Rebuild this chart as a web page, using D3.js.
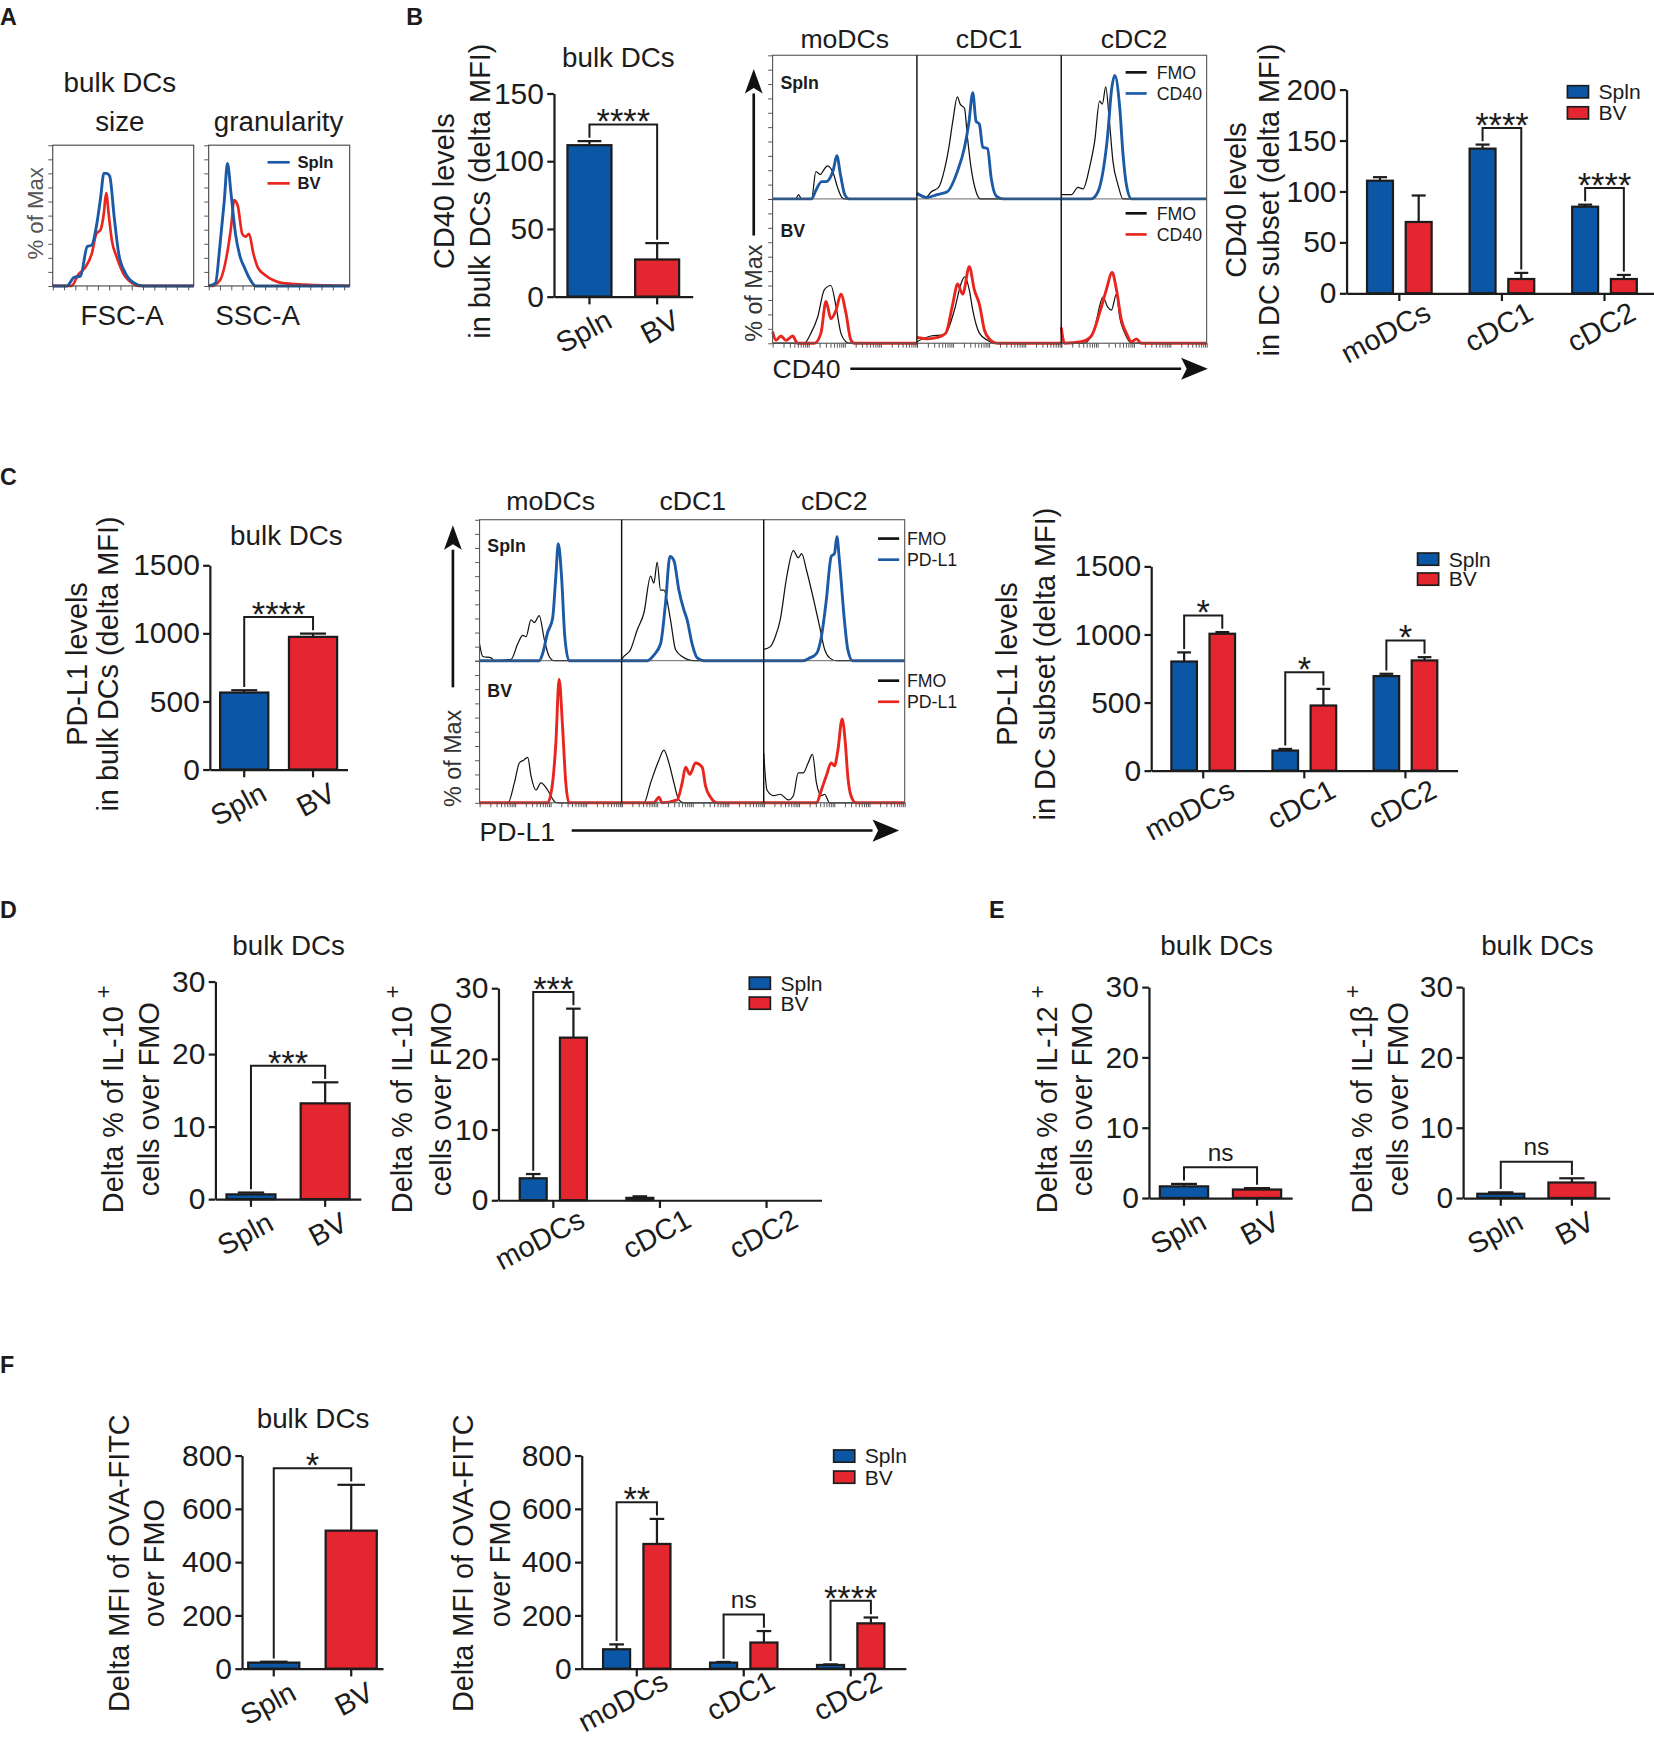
<!DOCTYPE html>
<meta charset="utf-8">
<script src="https://d3js.org/d3.v7.min.js"></script>
<style>
  body { margin: 0; background: #fff; }
</style>
<div id="fig"></div>
<script>
// ---------------- data ----------------
const pair = ["Spln", "BV"]
const subsets = ["moDCs", "cDC1", "cDC2"]

// B: CD40
const cd40Bulk = [111.8, 27.4]
const cd40BulkErr = [114.8, 39.5]
const cd40BulkSig = "****"
const cd40SubSpln = [110.5, 142, 85]
const cd40SubSplnErr = [114, 146, 87]
const cd40SubBV = [70, 14, 14]
const cd40SubBVErr = [96, 20, 18]
const cd40SubSig = [null, "****", "****"]

// C: PD-L1
const pdl1Bulk = [565, 974]
const pdl1BulkErr = [582, 998]
const pdl1BulkSig = "****"
const pdl1SubSpln = [801, 147, 694]
const pdl1SubSplnErr = [868, 159, 711]
const pdl1SubBV = [1005, 478, 809]
const pdl1SubBVErr = [1017, 600, 833]
const pdl1SubSig = ["*", "*", "*"]

// D: IL-10
const il10Bulk = [0.65, 13.2]
const il10BulkErr = [0.9, 16.1]
const il10BulkSig = "***"
const il10SubSpln = [3.1, 0.33, 0]
const il10SubSplnErr = [3.7, 0.55, 0]
const il10SubBV = [23.0, 0, 0]
const il10SubBVErr = [27.1, 0, 0]
const il10SubSig = ["***", null, null]

// E: IL-12, IL-1b
const il12Bulk = [1.65, 1.2]
const il12BulkErr = [2.0, 1.4]
const il1bBulk = [0.6, 2.2]
const il1bBulkErr = [0.8, 2.8]

// F: OVA-FITC
const ovaBulk = [22.6, 518]
const ovaBulkErr = [26, 690]
const ovaBulkSig = "*"
const ovaSubSpln = [72.7, 22.6, 13.8]
const ovaSubSplnErr = [91, 25, 16]
const ovaSubBV = [468, 98, 170]
const ovaSubBVErr = [562, 141, 192]
const ovaSubSig = ["**", "ns", "****"]

// tick values
const ticksCd40Bulk = [0, 50, 100, 150]
const ticksCd40Sub = [0, 50, 100, 150, 200]
const ticksPdl1 = [0, 500, 1000, 1500]
const ticksPct = [0, 10, 20, 30]
const ticksOva = [0, 200, 400, 600, 800]

// histograms: [x %, y % of max] per curve
const fscSpln = [[0,0],[10,0],[15,6],[19.7,7],[24.5,28],[27.7,29],[30.9,42],[34,63],[36.3,80],[38.2,80],[40.4,78],[43.6,49],[46.8,23],[51.6,9],[58,2],[64.3,0],[100,0]]
const fscBV = [[0,0],[13.4,0],[18,8],[23,13],[27.7,23],[30.9,37],[34,40],[36.3,52],[37.9,66],[39.8,50],[42,32],[45.2,21],[50,9],[56.4,2],[61,0],[100,0]]
const sscSpln = [[0,0],[4.8,2],[7.9,28],[11.1,61],[13.3,87],[15.9,65],[19,37],[22.2,21],[25.4,13],[28.6,6],[33.3,0],[100,0]]
const sscBV = [[0,0],[1.6,0],[7.9,4],[12.7,21],[15.9,42],[18.1,61],[20.6,57],[23.8,37],[26,35],[28.6,37],[31.7,23],[34.9,13],[39.7,8],[46,4],[52.4,2],[68.3,1],[100,0]]

const cd40MoSplnFmo = [[0,0],[16,0],[18,3],[20,0],[27,0],[30,19],[33,17],[36,21],[38,23],[42,18],[45,8],[48,1],[50,0],[100,0]]
const cd40MoSpln = [[0,0],[27,0],[30,6],[34,12],[37,12],[40,15],[42,20],[44.5,30],[47,17],[50,3],[53,0],[100,0]]
const cd40C1SplnFmo = [[0,3],[3,2],[6,1],[10,5],[15,8],[19,20],[22,35],[25,55],[28,71],[30,66],[33,63],[35,43],[37.5,22],[41,5],[44,0],[100,0]]
const cd40C1Spln = [[0,4],[7,1],[14,3],[21,5],[28,19],[33,36],[36,53],[38.7,74],[41,54],[43.3,52],[45.6,36],[49,35],[51.4,15],[55,2],[60,0],[100,0]]
const cd40C2SplnFmo = [[0,3],[7,3],[11.5,8],[15,7],[19.5,22],[23,40],[26.4,68],[28.3,66],[30.6,78],[32.9,57],[35.6,26],[39,10],[42.5,0],[100,0]]
const cd40C2Spln = [[0,0],[20.7,0],[25.3,5],[28.7,19],[32,45],[34.5,75],[36.8,86],[40.2,64],[42.5,31],[44.8,10],[48.3,0],[100,0]]
const cd40MoBVFmo = [[0,0],[22,0],[26.6,7],[31.2,18],[35.8,37],[40.4,40],[44,25],[47.3,7],[50.8,1],[53,0],[100,0]]
const cd40MoBV = [[0,8],[2.3,2],[5.8,5],[9.2,2],[13.9,5],[17.3,0],[29,0],[33.5,7],[37,29],[40.4,17],[44,23],[47.3,34],[50.8,21],[54.3,2],[56.6,0],[100,0]]
const cd40C1BVFmo = [[0,1],[9.7,5],[19,6],[26,23],[30.5,41],[33,46],[36.3,37],[38.7,23],[43.3,7],[49,2],[53.7,0],[100,0]]
const cd40C1BV = [[0,4],[7.4,3],[14.4,4],[20,7],[24.8,27],[28.2,41],[31.7,34],[36.3,53],[39.8,37],[43.3,27],[46.8,9],[50.2,3],[56,0],[100,0]]
const cd40C2BVFmo = [[0,0],[16,0],[23,11],[28.7,32],[32,25],[34.5,23],[38,34],[40.2,18],[43.7,7],[48.3,0],[100,0]]
const cd40C2BV = [[0,11],[2.3,0],[13.8,1],[20.7,5],[26.4,21],[31,37],[35,49],[38,37],[41.4,16],[44.8,7],[48.3,1],[51.7,3],[55,0],[100,0]]

const pdl1MoSplnFmo = [[0,12],[2.3,3],[8.2,2],[10.5,0],[22.2,1],[26.9,12],[30.4,18],[32.7,17],[36.2,29],[38.6,27],[42,32],[45.6,15],[49,3],[52.6,0],[100,0]]
const pdl1MoSpln = [[0,0],[42,0],[44.4,5],[47.9,20],[51.4,30],[53.7,60],[55.4,83],[57.7,60],[60,17],[63,0],[100,0]]
const pdl1C1SplnFmo = [[0,1],[1.6,3],[6.3,8],[11,22],[15.7,34],[20.4,60],[22.7,55],[25,70],[27.4,50],[29.7,50],[34.4,29],[37.9,8],[42.6,3],[50.8,0],[100,0]]
const pdl1C1Spln = [[0,0],[18,0],[22.7,4],[27.4,12],[30.9,41],[34,74],[36.8,71],[40.3,50],[43.8,36],[46.1,29],[49.6,12],[53.2,2],[57.8,0],[100,0]]
const pdl1C2SplnFmo = [[0,8],[4.7,10],[8.2,17],[11.7,29],[16.4,60],[21,78],[24.5,73],[26.9,76],[30.4,64],[35,45],[39.7,24],[43.2,8],[46.7,2],[51.4,0],[100,0]]
const pdl1C2Spln = [[0,0],[28,0],[32.7,2],[37.4,5],[40.9,17],[44.4,43],[47.9,74],[50.2,76],[51.9,88],[53.7,71],[57.2,29],[59.6,8],[63,0],[100,0]]
const pdl1MoBVFmo = [[0,0],[20,0],[24.5,14],[28,28],[31,30],[33.9,32],[36.2,19],[39.7,9],[43.2,14],[47.9,9],[52.6,1],[55,0],[100,0]]
const pdl1MoBV = [[0,0],[47.9,0],[51.4,14],[53.7,42],[56,87],[58.4,54],[60.7,14],[63,0],[100,0]]
const pdl1C1BVFmo = [[0,0],[15.7,0],[20.4,14],[26.2,30],[29.7,37],[33.3,28],[36.8,14],[40.3,2],[43.8,0],[100,0]]
const pdl1C1BV = [[0,0],[22.7,0],[26.2,4],[28.6,0],[39.1,2],[42.6,14],[45,25],[48,20],[52,28],[56.7,25],[59,12],[62.5,4],[67.2,0],[100,0]]
const pdl1C2BVFmo = [[0,35],[2.3,9],[7,5],[11.7,6],[17.5,2],[21,5],[24.5,21],[28,21],[31.5,28],[34.6,34],[37.4,14],[40.9,5],[43.2,6],[46.7,0],[100,0]]
const pdl1C2BV = [[0,0],[37.4,0],[40.9,9],[44.4,19],[47.9,28],[50.2,26],[52.6,37],[55.6,59],[57.9,42],[59.6,19],[61.9,5],[65.4,0],[100,0]]

// ---------------- setup ----------------
const BLUE = "#0b57a5", RED = "#e3262f", INK = "#1c1c1c"
const HBLUE = "#1c5aa6", HRED = "#e8261f"
const FONT = "'Liberation Sans', Arial, Helvetica, sans-serif"

const svg = d3.select("#fig").append("svg")
    .attr("width", 1654).attr("height", 1741)
    .attr("viewBox", "0 0 1490 1568")
    .style("display", "block")
    .attr("font-family", FONT)
svg.append("rect").attr("width", 1490).attr("height", 1568).attr("fill", "#fff")

function txt(x, y, s, size, o = {}) {
    const t = svg.append("text").attr("x", x).attr("y", y)
        .attr("font-size", size)
        .attr("text-anchor", o.anchor || "middle")
        .attr("fill", o.fill || INK)
    if (o.bold) t.attr("font-weight", "bold")
    if (o.dy) t.attr("dy", o.dy)
    if (o.rotate) t.attr("transform", `rotate(${o.rotate},${x},${y})`)
    t.text(s)
    return t
}

// two-line rotated y title; a line may be [text, superscript]
function yTitle(lines, xs, cy) {
    lines.forEach((ln, i) => {
        const t = svg.append("text")
            .attr("transform", `translate(${xs[i]},${cy}) rotate(-90)`)
            .attr("text-anchor", "middle").attr("dy", "0.35em")
            .attr("font-size", 26).attr("fill", INK)
        if (Array.isArray(ln)) {
            t.append("tspan").text(ln[0] + " ")
            t.append("tspan").attr("dy", -11).attr("font-size", 20).text(ln[1])
        } else t.text(ln)
    })
}

function yAxis(y, x0, ticks) {
    const ax = svg.append("g").attr("transform", `translate(${x0},0)`)
        .call(d3.axisLeft(y).tickValues(ticks).tickFormat(d3.format("d"))
            .tickSize(6).tickPadding(3).tickSizeOuter(0))
    ax.select(".domain").attr("stroke", INK).attr("stroke-width", 2)
    ax.selectAll(".tick line").attr("stroke", INK).attr("stroke-width", 2)
    ax.selectAll(".tick text").attr("font-size", 27).attr("font-family", FONT).attr("fill", INK)
}

function xAxis(xb, yb, dx, dy) {
    const ax = svg.append("g").attr("transform", `translate(0,${yb})`)
        .call(d3.axisBottom(xb).tickSize(7).tickSizeOuter(0).tickFormat(""))
    ax.select(".domain").attr("stroke", INK).attr("stroke-width", 2)
    ax.selectAll(".tick line").attr("stroke", INK).attr("stroke-width", 2)
    xb.domain().forEach(d => {
        const cx = xb(d) + xb.bandwidth() / 2
        txt(cx + dx, yb + dy, d, 26, {anchor: "end", rotate: -28})
    })
}

function bar(cx, w, v, e, y, color) {
    const top = y(v), base = y(0)
    if (e > v) {
        svg.append("line").attr("x1", cx).attr("x2", cx).attr("y1", top).attr("y2", y(e))
            .attr("stroke", INK).attr("stroke-width", 2)
        svg.append("line").attr("x1", cx - w * 0.27).attr("x2", cx + w * 0.27)
            .attr("y1", y(e)).attr("y2", y(e)).attr("stroke", INK).attr("stroke-width", 2)
    }
    if (v > 0) {
        svg.append("rect").attr("x", cx - w / 2).attr("y", top)
            .attr("width", w).attr("height", base - top)
            .attr("fill", color).attr("stroke", INK).attr("stroke-width", 2)
    }
}

function bracket(xl, xr, yl, yr, label) {
    const top = Math.min(yl, yr) - 15
    svg.append("path").attr("d", `M${xl},${yl - 3}V${top}H${xr}V${yr - 3}`)
        .attr("fill", "none").attr("stroke", INK).attr("stroke-width", 1.8)
    if (label === "ns") txt((xl + xr) / 2, top - 6, label, 22)
    else txt((xl + xr) / 2, top + 8, label, 31)
}

function pairChart(c) {
    const y = d3.scaleLinear().domain([0, c.max]).range([c.yb, c.yt])
    const xb = d3.scaleBand().domain(pair).range([c.x0, c.x1])
        .paddingInner(c.pi).paddingOuter(c.po)
    const w = xb.bandwidth()
    pair.forEach((p, i) => bar(xb(p) + w / 2, w, c.vals[i], c.errs[i], y, i ? RED : BLUE))
    yAxis(y, c.x0, c.ticks)
    xAxis(xb, c.yb, 22, 27)
    if (c.sig) bracket(xb("Spln") + w / 2, xb("BV") + w / 2,
        y(c.errs[0]), y(c.errs[1]), c.sig)
    if (c.title) txt(c.title[0], c.title[1], "bulk DCs", 25)
    yTitle(c.ylab, c.ylx, c.yly)
}

function groupChart(c) {
    const y = d3.scaleLinear().domain([0, c.max]).range([c.yb, c.yt])
    const xg = d3.scaleBand().domain(subsets).range([c.x0, c.x1])
        .paddingInner(0.37).paddingOuter(0.2)
    const xi = d3.scaleBand().domain(pair).range([0, xg.bandwidth()]).paddingInner(0.33)
    const w = xi.bandwidth()
    subsets.forEach((s, k) => {
        const cs = xg(s) + xi("Spln") + w / 2, cb = xg(s) + xi("BV") + w / 2
        bar(cs, w, c.spln[k], c.splnErr[k], y, BLUE)
        bar(cb, w, c.bv[k], c.bvErr[k], y, RED)
        if (c.sig[k]) bracket(cs, cb, y(c.splnErr[k]), y(c.bvErr[k]), c.sig[k])
    })
    yAxis(y, c.x0, c.ticks)
    xAxis(xg, c.yb, 30, c.labDy || 23)
    // legend
    pair.forEach((p, i) => {
        const ly = c.leg[1] + i * c.leg[2]
        svg.append("rect").attr("x", c.leg[0]).attr("y", ly).attr("width", 19).attr("height", 11)
            .attr("fill", i ? RED : BLUE).attr("stroke", INK).attr("stroke-width", 1.5)
        txt(c.leg[0] + 28, ly + 5.5, p, 19, {anchor: "start", dy: "0.35em"})
    })
    yTitle(c.ylab, c.ylx, c.yly)
}

// ---------------- histograms ----------------
function histLines(x0, x1, yb, yt, fmo, pos, color, fmoColor) {
    const xs = d3.scaleLinear().domain([0, 100]).range([x0, x1])
    const ys = d3.scaleLinear().domain([0, 100]).range([yb, yt])
    const line = d3.line().x(d => xs(d[0])).y(d => ys(d[1])).curve(d3.curveMonotoneX)
    svg.append("path").attr("d", line(fmo)).attr("fill", "none")
        .attr("stroke", fmoColor || "#111").attr("stroke-width", fmoColor ? 2.4 : 1.1)
    svg.append("path").attr("d", line(pos)).attr("fill", "none")
        .attr("stroke", color).attr("stroke-width", 2.6)
}

function logTicks(x0, x1, yb) {
    const s = d3.scaleLog().domain([10, 100000]).range([x0, x1])
    const ax = svg.append("g").attr("transform", `translate(0,${yb})`)
        .call(d3.axisBottom(s).tickSize(4).tickSizeOuter(0).tickFormat(""))
    ax.select(".domain").remove()
    ax.selectAll(".tick line").attr("stroke", "#444").attr("stroke-width", 0.8)
}

function leftTicks(x0, yb, yt) {
    const s = d3.scaleLinear().domain([0, 100]).range([yb, yt])
    const ax = svg.append("g").attr("transform", `translate(${x0},0)`)
        .call(d3.axisLeft(s).ticks(10).tickSize(4).tickSizeOuter(0).tickFormat(""))
    ax.select(".domain").remove()
    ax.selectAll(".tick line").attr("stroke", "#444").attr("stroke-width", 0.8)
}

function arrow(x1, y1, x2, y2, head, half) {
    const a = Math.atan2(y2 - y1, x2 - x1)
    const bx = x2 - Math.cos(a) * head, by = y2 - Math.sin(a) * head
    svg.append("line").attr("x1", x1).attr("y1", y1).attr("x2", bx).attr("y2", by)
        .attr("stroke", "#111").attr("stroke-width", 2.4)
    const px = -Math.sin(a) * half, py = Math.cos(a) * half
    svg.append("path")
        .attr("d", `M${x2},${y2}L${bx + px},${by + py}L${bx + Math.cos(a) * 5},${by + Math.sin(a) * 5}L${bx - px},${by - py}Z`)
        .attr("fill", "#111")
}

function histGrid(g) {
    const cols = g.cols
    // curves
    subsets.forEach((s, k) => {
        histLines(cols[k], cols[k + 1], g.ymid, g.ytop, g.top[k][0], g.top[k][1], HBLUE)
        histLines(cols[k], cols[k + 1], g.ybot, g.ymid, g.bot[k][0], g.bot[k][1], HRED)
        logTicks(cols[k], cols[k + 1], g.ybot)
        txt((cols[k] + cols[k + 1]) / 2, g.titleY, s, 24)
    })
    leftTicks(cols[0], g.ymid, g.ytop)
    leftTicks(cols[0], g.ybot, g.ymid)
    // frame
    svg.append("rect").attr("x", cols[0]).attr("y", g.ytop)
        .attr("width", cols[3] - cols[0]).attr("height", g.ybot - g.ytop)
        .attr("fill", "none").attr("stroke", "#555").attr("stroke-width", 1)
    ;[cols[1], cols[2]].forEach(cx => svg.append("line").attr("x1", cx).attr("x2", cx)
        .attr("y1", g.ytop).attr("y2", g.ybot).attr("stroke", "#111").attr("stroke-width", 1.3))
    svg.append("line").attr("x1", cols[0]).attr("x2", cols[3]).attr("y1", g.ymid).attr("y2", g.ymid)
        .attr("stroke", "#555").attr("stroke-width", 0.8)
    // row labels
    txt(cols[0] + 7, g.rowLab[0], "Spln", 16, {anchor: "start", bold: true})
    txt(cols[0] + 7, g.rowLab[1], "BV", 16, {anchor: "start", bold: true})
    // legends
    const lg = g.leg
    ;[[lg.y[0], "#111", "FMO"], [lg.y[1], HBLUE, g.marker], [lg.y[2], "#111", "FMO"], [lg.y[3], HRED, g.marker]]
        .forEach(([yy, col, lab]) => {
            svg.append("line").attr("x1", lg.x[0]).attr("x2", lg.x[1]).attr("y1", yy).attr("y2", yy)
                .attr("stroke", col).attr("stroke-width", 2.4)
            txt(lg.x[2], yy, lab, 16, {anchor: "start", dy: "0.35em"})
        })
    // axis arrows and labels
    arrow(g.vArrow[0], g.vArrow[1], g.vArrow[0], g.vArrow[2], 22, 8)
    svg.append("text").attr("transform", `translate(${g.vArrow[0]},${g.maxY}) rotate(-90)`)
        .attr("text-anchor", "middle").attr("dy", "0.35em").attr("font-size", 21)
        .attr("fill", "#333").text("% of Max")
    arrow(g.hArrow[0], g.hArrow[2], g.hArrow[1], g.hArrow[2], 24, 10)
    txt(cols[0], g.markerY, g.marker, 24, {anchor: "start"})
}

// ---------------- panel letters ----------------
;[["A", 0, 22.5], ["B", 366, 22.5], ["C", 0, 437], ["D", 0, 827], ["E", 891, 827], ["F", 0, 1237]]
    .forEach(([l, x, y]) => txt(x, y, l, 21, {anchor: "start", bold: true}))

// ---------------- A ----------------
{
    const boxes = [[47.5, 174.5, fscSpln, fscBV], [188, 315, sscSpln, sscBV]]
    const yb = 257.4, yt = 130.6
    boxes.forEach(([x0, x1, s, b]) => {
        histLines(x0, x1, yb, yt, b, s, HBLUE, HRED)
        const lin = d3.scaleLinear().domain([0, 250]).range([x0, x1])
        const ax = svg.append("g").attr("transform", `translate(0,${yb})`)
            .call(d3.axisBottom(lin).ticks(15).tickSize(4).tickSizeOuter(0).tickFormat(""))
        ax.select(".domain").remove()
        ax.selectAll(".tick line").attr("stroke", "#444").attr("stroke-width", 0.8)
        leftTicks(x0, yb, yt)
        svg.append("rect").attr("x", x0).attr("y", yt).attr("width", x1 - x0).attr("height", yb - yt)
            .attr("fill", "none").attr("stroke", "#444").attr("stroke-width", 1)
    })
    txt(108, 83, "bulk DCs", 25)
    txt(108, 118, "size", 25)
    txt(251, 118, "granularity", 25)
    txt(110, 293, "FSC-A", 25)
    txt(232, 293, "SSC-A", 25)
    svg.append("text").attr("transform", "translate(31.5,192) rotate(-90)")
        .attr("text-anchor", "middle").attr("dy", "0.35em").attr("font-size", 20)
        .attr("fill", "#555").text("% of Max")
    ;[[146, HBLUE, "Spln"], [165, HRED, "BV"]].forEach(([yy, col, lab]) => {
        svg.append("line").attr("x1", 241).attr("x2", 261).attr("y1", yy).attr("y2", yy)
            .attr("stroke", col).attr("stroke-width", 2.4)
        txt(268, yy, lab, 15, {anchor: "start", bold: true, dy: "0.35em"})
    })
}

// ---------------- B ----------------
pairChart({vals: cd40Bulk, errs: cd40BulkErr, sig: cd40BulkSig, max: 150, ticks: ticksCd40Bulk,
    x0: 499, x1: 624, yb: 267, yt: 84, pi: 0.35, po: 0.2, title: [557, 60],
    ylab: ["CD40 levels", "in bulk DCs (delta MFI)"], ylx: [400, 432], yly: 172})

histGrid({cols: [696, 826, 956, 1087], ytop: 49.6, ymid: 179, ybot: 309, titleY: 43,
    top: [[cd40MoSplnFmo, cd40MoSpln], [cd40C1SplnFmo, cd40C1Spln], [cd40C2SplnFmo, cd40C2Spln]],
    bot: [[cd40MoBVFmo, cd40MoBV], [cd40C1BVFmo, cd40C1BV], [cd40C2BVFmo, cd40C2BV]],
    rowLab: [80, 213.5], marker: "CD40", markerY: 340,
    leg: {x: [1014, 1033, 1042], y: [65, 84, 192, 211]},
    vArrow: [679, 212, 62], maxY: 264, hArrow: [766, 1088, 332]})

groupChart({spln: cd40SubSpln, splnErr: cd40SubSplnErr, bv: cd40SubBV, bvErr: cd40SubBVErr,
    sig: cd40SubSig, max: 200, ticks: ticksCd40Sub, x0: 1213, x1: 1493, yb: 264, yt: 80.5,
    leg: [1412, 77, 19], ylab: ["CD40 levels", "in DC subset (delta MFI)"], ylx: [1113, 1143], yly: 180})

// ---------------- C ----------------
pairChart({vals: pdl1Bulk, errs: pdl1BulkErr, sig: pdl1BulkSig, max: 1500, ticks: ticksPdl1,
    x0: 189, x1: 313, yb: 693, yt: 509, pi: 0.3, po: 0.15, title: [258, 491],
    ylab: ["PD-L1 levels", "in bulk DCs (delta MFI)"], ylx: [69, 97], yly: 598})

histGrid({cols: [432, 560, 688, 815], ytop: 468, ymid: 595, ybot: 723, titleY: 459,
    top: [[pdl1MoSplnFmo, pdl1MoSpln], [pdl1C1SplnFmo, pdl1C1Spln], [pdl1C2SplnFmo, pdl1C2Spln]],
    bot: [[pdl1MoBVFmo, pdl1MoBV], [pdl1C1BVFmo, pdl1C1BV], [pdl1C2BVFmo, pdl1C2BV]],
    rowLab: [497, 628], marker: "PD-L1", markerY: 757,
    leg: {x: [791, 810, 817], y: [485, 504, 613, 632]},
    vArrow: [408, 619, 473], maxY: 683, hArrow: [515, 810, 748]})

groupChart({spln: pdl1SubSpln, splnErr: pdl1SubSplnErr, bv: pdl1SubBV, bvErr: pdl1SubBVErr,
    sig: pdl1SubSig, max: 1500, ticks: ticksPdl1, x0: 1037, x1: 1313, yb: 694, yt: 510,
    leg: [1277, 498, 18], ylab: ["PD-L1 levels", "in DC subset (delta MFI)"], ylx: [907, 941], yly: 598})

// ---------------- D ----------------
pairChart({vals: il10Bulk, errs: il10BulkErr, sig: il10BulkSig, max: 30, ticks: ticksPct,
    x0: 194, x1: 325, yb: 1080, yt: 884, pi: 0.34, po: 0.15, title: [260, 860],
    ylab: [["Delta % of IL-10", "+"], "cells over FMO"], ylx: [102, 134], yly: 990})

groupChart({spln: il10SubSpln, splnErr: il10SubSplnErr, bv: il10SubBV, bvErr: il10SubBVErr,
    sig: il10SubSig, max: 30, ticks: ticksPct, x0: 449, x1: 740, yb: 1081, yt: 890,
    leg: [675, 880, 18], ylab: [["Delta % of IL-10", "+"], "cells over FMO"], ylx: [362, 397], yly: 990})

// ---------------- E ----------------
pairChart({vals: il12Bulk, errs: il12BulkErr, sig: "ns", max: 30, ticks: ticksPct,
    x0: 1035, x1: 1164, yb: 1079, yt: 889, pi: 0.34, po: 0.15, title: [1096, 860],
    ylab: [["Delta % of IL-12", "+"], "cells over FMO"], ylx: [943, 975], yly: 990})

pairChart({vals: il1bBulk, errs: il1bBulkErr, sig: "ns", max: 30, ticks: ticksPct,
    x0: 1318, x1: 1450, yb: 1079, yt: 889, pi: 0.34, po: 0.2, title: [1385, 860],
    ylab: [["Delta % of IL-1β", "+"], "cells over FMO"], ylx: [1227, 1259], yly: 990})

// ---------------- F ----------------
pairChart({vals: ovaBulk, errs: ovaBulkErr, sig: ovaBulkSig, max: 800, ticks: ticksOva,
    x0: 218, x1: 345, yb: 1503, yt: 1311, pi: 0.34, po: 0.08, title: [282, 1286],
    ylab: ["Delta MFI of OVA-FITC", "over FMO"], ylx: [107, 139], yly: 1408})

groupChart({spln: ovaSubSpln, splnErr: ovaSubSplnErr, bv: ovaSubBV, bvErr: ovaSubBVErr,
    sig: ovaSubSig, max: 800, ticks: ticksOva, x0: 524, x1: 816, yb: 1503, yt: 1311, labDy: 17,
    leg: [751, 1306, 19], ylab: ["Delta MFI of OVA-FITC", "over FMO"], ylx: [417, 450], yly: 1408})
</script>
